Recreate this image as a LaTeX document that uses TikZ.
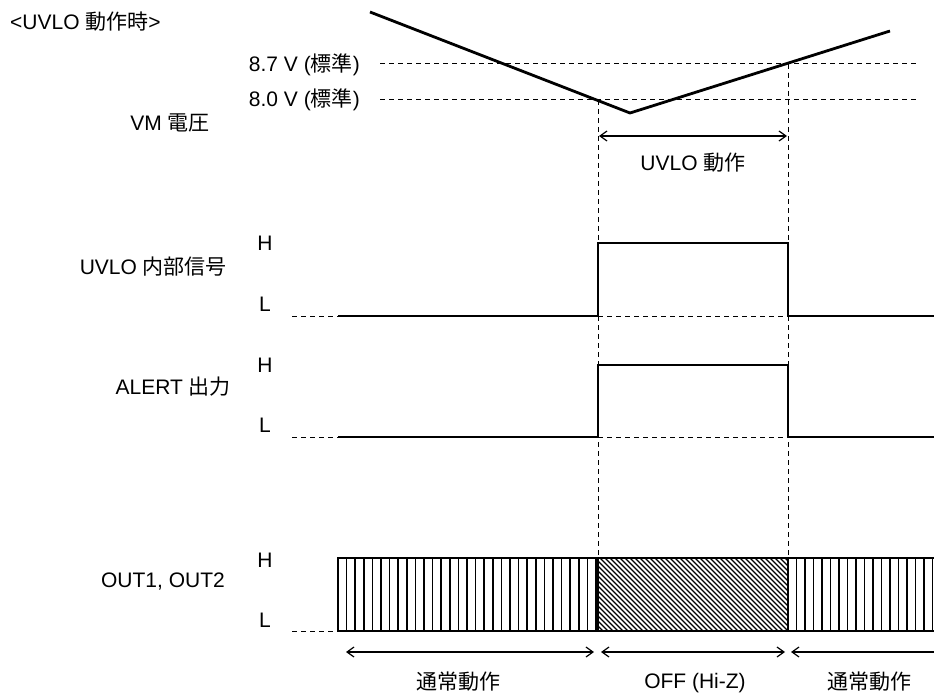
\documentclass[tikz,border=0pt]{standalone}
\usepackage{fontspec}
\setmainfont{Liberation Sans}
\newfontfamily\cjk{Noto Sans CJK JP}
\usetikzlibrary{arrows.meta}
\begin{document}
\begin{tikzpicture}[x=1pt,y=-1pt,
  font=\fontsize{21}{25}\selectfont,
  lbl/.style={inner sep=0pt},
  sig/.style={line width=2.4pt, line join=miter},
  vline/.style={line width=2.8pt, line join=miter},
  dsh/.style={line width=1pt, dash pattern=on 5pt off 4pt},
  hatchv/.style={line width=1.5pt},
  hatchd/.style={line width=1.1pt},
  boxline/.style={line width=2pt},
  dimarr/.style={line width=1.2pt, {Straight Barb[length=7pt,width=10pt]}-{Straight Barb[length=7pt,width=10pt]}}]
\useasboundingbox (0,0) rectangle (934,695);

% key coordinates
\coordinate (va) at (370,12);
\coordinate (vm) at (630,113);
\coordinate (vb) at (890,31);
\coordinate (h87a) at (380,64);  \coordinate (h87b) at (918,64);
\coordinate (h80a) at (380,100); \coordinate (h80b) at (918,100);
\coordinate (t1top) at (598,100); \coordinate (t1bot) at (598,631);
\coordinate (t2top) at (788,64);  \coordinate (t2bot) at (788,631);

% texts
\node[lbl, anchor=base west] (title) at (10,30) {<UVLO {\cjk 動作時}>};
\node[lbl, anchor=base east] (l87) at (360,72) {8.7 V ({\cjk 標準})};
\node[lbl, anchor=base east] (l80) at (360,107) {8.0 V ({\cjk 標準})};
\node[lbl, anchor=base east] (lvm) at (210,131) {VM {\cjk 電圧}};
\node[lbl, anchor=base] (luvlo) at (693,171) {UVLO {\cjk 動作}};
\node[lbl, anchor=base east] (lsig1) at (227,274) {UVLO {\cjk 内部信号}};
\node[lbl, anchor=base east] (lsig2) at (231,394) {ALERT {\cjk 出力}};
\node[lbl, anchor=base east] (lsig3) at (225,587) {OUT1, OUT2};
\node[lbl, anchor=base] (h1) at (265,251) {H};
\node[lbl, anchor=base] (l1) at (265,311) {L};
\node[lbl, anchor=base] (h2) at (265,372) {H};
\node[lbl, anchor=base] (l2) at (265,432) {L};
\node[lbl, anchor=base] (h3) at (265,567) {H};
\node[lbl, anchor=base] (l3) at (265,627) {L};
\node[lbl, anchor=base] (b1) at (458,689) {\cjk 通常動作};
\node[lbl, anchor=base] (b2) at (695,688) {OFF (Hi-Z)};
\node[lbl, anchor=base] (b3) at (869,689) {\cjk 通常動作};

% dashed reference lines
\draw[dsh] (h87a) -- (h87b);
\draw[dsh] (h80a) -- (h80b);
\draw[dsh] (t1top) -- (t1bot);
\draw[dsh] (t2top) -- (t2bot);
\draw[dsh] (292,316) -- (934,316);
\draw[dsh] (292,437) -- (934,437);
\draw[dsh] (292,631) -- (338,631);

% VM voltage
\draw[vline] (va) -- (vm) -- (vb);

% UVLO span arrow
\coordinate (ua) at (599,136); \coordinate (ub) at (787,136);
\draw[dimarr] (ua) -- (ub);

% UVLO internal signal
\draw[sig] (338,316) -- (598,316) -- (598,243) -- (788,243) -- (788,316) -- (936,316);
% ALERT output
\draw[sig] (338,437) -- (598,437) -- (598,365) -- (788,365) -- (788,437) -- (936,437);

% OUT1, OUT2 hatching
\foreach \x in {346.6,355.2,...,596} \draw[hatchv] (\x,558) -- (\x,631);
\foreach \x in {796.5,805,...,934} \draw[hatchv] (\x,558) -- (\x,631);
\begin{scope}
  \clip (598,558) rectangle (788,631);
  \foreach \x in {520,525,...,790} \draw[hatchd] (\x,558) -- (\x+73,631);
\end{scope}
\draw[boxline] (338,558) rectangle (940,631);
\draw[boxline] (598,558) -- (598,631);
\draw[boxline] (788,558) -- (788,631);

% bottom span arrows
\coordinate (p1) at (346,652); \coordinate (p2) at (594,652);
\coordinate (p3) at (601,652); \coordinate (p4) at (785,652);
\coordinate (p5) at (791,652); \coordinate (p6) at (946,652);
\draw[dimarr] (p1) -- (p2);
\draw[dimarr] (p3) -- (p4);
\draw[dimarr] (p5) -- (p6);
\end{tikzpicture}
\end{document}
